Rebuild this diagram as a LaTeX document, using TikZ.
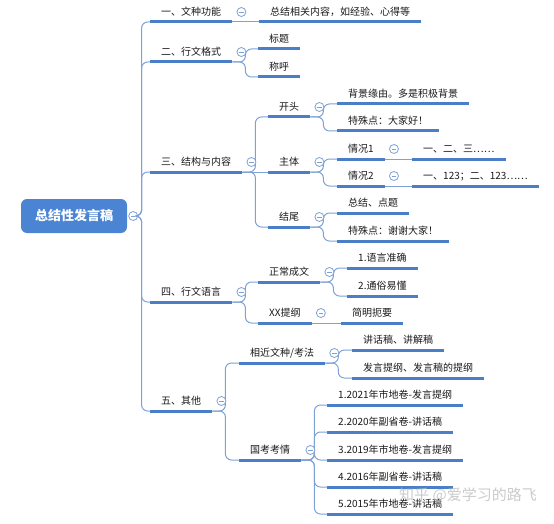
\documentclass[tikz,border=0pt]{standalone}
\usepackage{fontspec}
\setmainfont{Noto Sans CJK SC}
\usetikzlibrary{calc}
\definecolor{lineblue}{HTML}{4A7FC8}
\definecolor{connblue}{HTML}{7EA1D6}
\definecolor{rootblue}{HTML}{4A84D2}
\definecolor{txt}{HTML}{1A1A1A}
\tikzset{
	topic/.style={anchor=south west, inner xsep=11pt, inner ysep=4pt, text height=8pt, text depth=2pt, font=\fontsize{10}{12}\selectfont, text=txt},
	uline/.style={draw=lineblue, line width=3pt},
	conn/.style={draw=connblue, line width=1pt, rounded corners=6pt},
	foldc/.style={circle, draw=connblue, line width=0.8pt, minimum size=9pt, inner sep=0pt, fill=white},
	rootbox/.style={fill=rootblue, rounded corners=6pt, minimum width=106pt, minimum height=34pt, text=white, font=\fontsize{13}{15}\selectfont\bfseries},
	wmark/.style={text=gray!55, opacity=0.75, font=\fontsize{15}{17}\selectfont}
}
\def\topic(#1)(#2,#3)#4{\node[topic] (#1) at (#2,#3) {#4}; \draw[uline] (#1.south west) -- (#1.south east);}
\def\fold#1#2{\node[foldc] (#1-f) at #2 {}; \draw[draw=connblue, line width=0.8pt] ([xshift=-2.2pt]#1-f.center) -- ([xshift=2.2pt]#1-f.center);}
\def\branch(#1)(#2){\draw[conn] (#1.south east) -- ++(13,0) |- (#2.south west);}
\def\straight(#1)(#2){\draw[conn] (#1.south east) -- (#2.south west);}

\begin{document}
\begin{tikzpicture}[x=1pt, y=-1pt]
			%%%%% START %%%%%
			\useasboundingbox (0,0) rectangle (554,524);
			
			% root
			\node[rootbox] (root) at (74,216) {总结性发言稿};
			\fold{root}{([xshift=6pt]root.east)}
			
			% first level
			\topic(one)(150,22){一、文种功能}
			\topic(two)(150,62){二、行文格式}
			\topic(three)(150,172){三、结构与内容}
			\topic(four)(150,302){四、行文语言}
			\topic(five)(150,411){五、其他}
			\foreach \n in {one,two,three,four,five}
				\draw[conn] (root-f.east) -- ++(3.5,0) |- (\n.south west);
			
			% 一
			\topic(oneA)(259,22){总结相关内容，如经验、心得等}
			\straight(one)(oneA)
			
			% 二
			\topic(twoA)(258,49){标题}
			\topic(twoB)(258,77){称呼}
			\branch(two)(twoA)
			\branch(two)(twoB)
			
			% 三
			\topic(kaitou)(268,117){开头}
			\topic(zhuti)(268,172){主体}
			\topic(jiewei)(268,227){结尾}
			\branch(three)(kaitou)
			\straight(three)(zhuti)
			\branch(three)(jiewei)
			
			\topic(ktA)(337,104){背景缘由。多是积极背景}
			\topic(ktB)(337,131){特殊点：大家好！}
			\branch(kaitou)(ktA)
			\branch(kaitou)(ktB)
			
			\topic(qk1)(337,159){情况1}
			\topic(qk2)(337,186){情况2}
			\branch(zhuti)(qk1)
			\branch(zhuti)(qk2)
			\topic(qk1A)(412,159){一、二、三……}
			\topic(qk2A)(412,186){一、123；二、123……}
			\straight(qk1)(qk1A)
			\straight(qk2)(qk2A)
			
			\topic(jwA)(337,213){总结、点题}
			\topic(jwB)(337,241){特殊点：谢谢大家！}
			\branch(jiewei)(jwA)
			\branch(jiewei)(jwB)
			
			% 四
			\topic(zhengchang)(258,282){正常成文}
			\topic(tigang)(258,323){XX提纲}
			\branch(four)(zhengchang)
			\branch(four)(tigang)
			\topic(zcA)(347,268){1.语言准确}
			\topic(zcB)(347,296){2.通俗易懂}
			\branch(zhengchang)(zcA)
			\branch(zhengchang)(zcB)
			\topic(tgA)(341,323){简明扼要}
			\straight(tigang)(tgA)
			
			% 五
			\topic(xiangjin)(239,363){相近文种/考法}
			\topic(guokao)(239,460){国考考情}
			\branch(five)(xiangjin)
			\branch(five)(guokao)
			\topic(xjA)(352,350){讲话稿、讲解稿}
			\topic(xjB)(352,378){发言提纲、发言稿的提纲}
			\branch(xiangjin)(xjA)
			\branch(xiangjin)(xjB)
			\topic(gk1)(327,405){1.2021年市地卷-发言提纲}
			\topic(gk2)(327,432){2.2020年副省卷-讲话稿}
			\topic(gk3)(327,460){3.2019年市地卷-发言提纲}
			\topic(gk4)(327,487){4.2016年副省卷-讲话稿}
			\topic(gk5)(327,514){5.2015年市地卷-讲话稿}
			\foreach \n in {gk1,gk2,gk3,gk4,gk5}{
				\branch(guokao)(\n)
			}
			
			% fold marks
			\foreach \n in {one,two,three,four,five,kaitou,zhuti,jiewei,qk1,qk2,zhengchang,tigang,xiangjin,guokao}{
				\fold{\n}{([shift={(9,-10)}]\n.south east)}
			}
			
			% watermark
			\node[wmark] (wm) at (468,495) {知乎 @爱学习的路飞};
			
			%%%%% END %%%%%
		\end{tikzpicture}
\end{document}
